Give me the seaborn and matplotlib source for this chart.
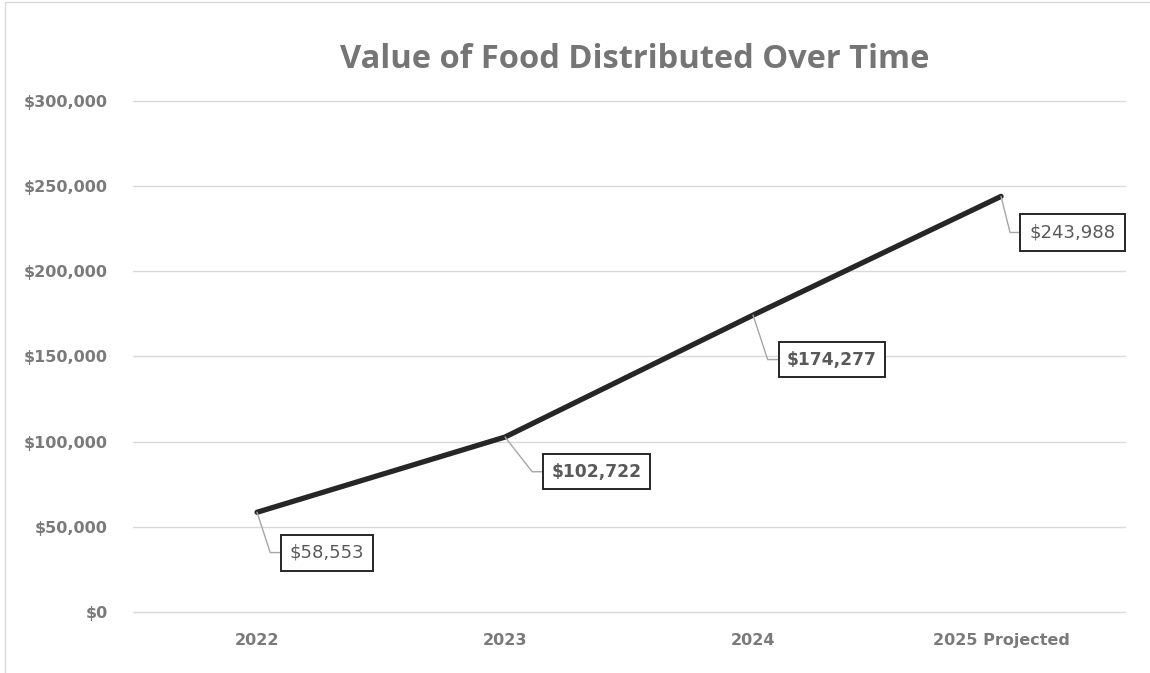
import math
import pandas as pd
import matplotlib.pyplot as plt
import seaborn as sns
from matplotlib.patches import Rectangle
from matplotlib.ticker import FuncFormatter

years = ["2022", "2023", "2024", "2025 Projected"]
values = [58553, 102722, 174277, 243988]
# data label placement: (box left, box centre) in points relative to the point
label_offsets = [(17, -29), (27, -25), (18, -32), (14, -26)]
label_weights = ["normal", "bold", "bold", "normal"]

sns.set_theme(style="white")
plt.rcParams["font.family"] = ["DejaVu Sans"]

df = pd.DataFrame({"year": years, "value": values})

fig = plt.figure(figsize=(11.5, 6.73), dpi=100)
ax = fig.add_axes([0.1157, 0.0906, 0.8626, 0.7594])

sns.lineplot(data=df, x="year", y="value", color="#262626", linewidth=3.8,
             solid_capstyle="round", ax=ax)

ax.set_xlim(-0.5, 3.5)
ax.set_ylim(0, 300000)
ax.set_yticks(range(0, 300001, 50000))
ax.yaxis.set_major_formatter(FuncFormatter(lambda v, _: f"${v:,.0f}"))
ax.grid(axis="y", color="#d9d9d9", linewidth=1)
for gl in ax.get_ygridlines():
    gl.set_clip_on(False)
ax.set_axisbelow(True)
for s in ax.spines.values():
    s.set_visible(False)
ax.set_xlabel("")
ax.set_ylabel("")
ax.tick_params(axis="both", length=0, labelsize=11.5, labelcolor="#7a7a7a")
ax.tick_params(axis="x", pad=15)
ax.tick_params(axis="y", pad=18)
for t in ax.get_xticklabels() + ax.get_yticklabels():
    t.set_fontweight("bold")

fs = 13
pad = 0.5
for i, (v, (bx, by), w) in enumerate(zip(values, label_offsets, label_weights)):
    corner_x = bx - 7.5
    angle_b = math.degrees(math.atan2(by, corner_x))
    ax.annotate(f"${v:,}", xy=(i, v), xytext=(bx + pad * fs, by),
                textcoords="offset points", ha="left", va="center",
                fontsize=fs if w == "normal" else 12.3, fontweight=w, color="#595959",
                bbox=dict(boxstyle=f"square,pad={pad}", fc="white", ec="#262626", lw=1.4),
                arrowprops=dict(arrowstyle="-", color="#a6a6a6", lw=1, relpos=(0, 0.5),
                                connectionstyle=f"angle,angleA=0,angleB={angle_b:.1f},rad=0",
                                shrinkA=0, shrinkB=0))

fig.text(0.5517, 0.911, "Value of Food Distributed Over Time", ha="center", va="center",
         fontsize=23.5, fontweight="bold", color="#757575", family=["Open Sans", "DejaVu Sans"])

fig.patches.append(Rectangle((0.004, -0.01), 1.0, 1.007, transform=fig.transFigure,
                             fill=False, ec="#d9d9d9", lw=1))

fig.savefig("out.png", dpi=100)
